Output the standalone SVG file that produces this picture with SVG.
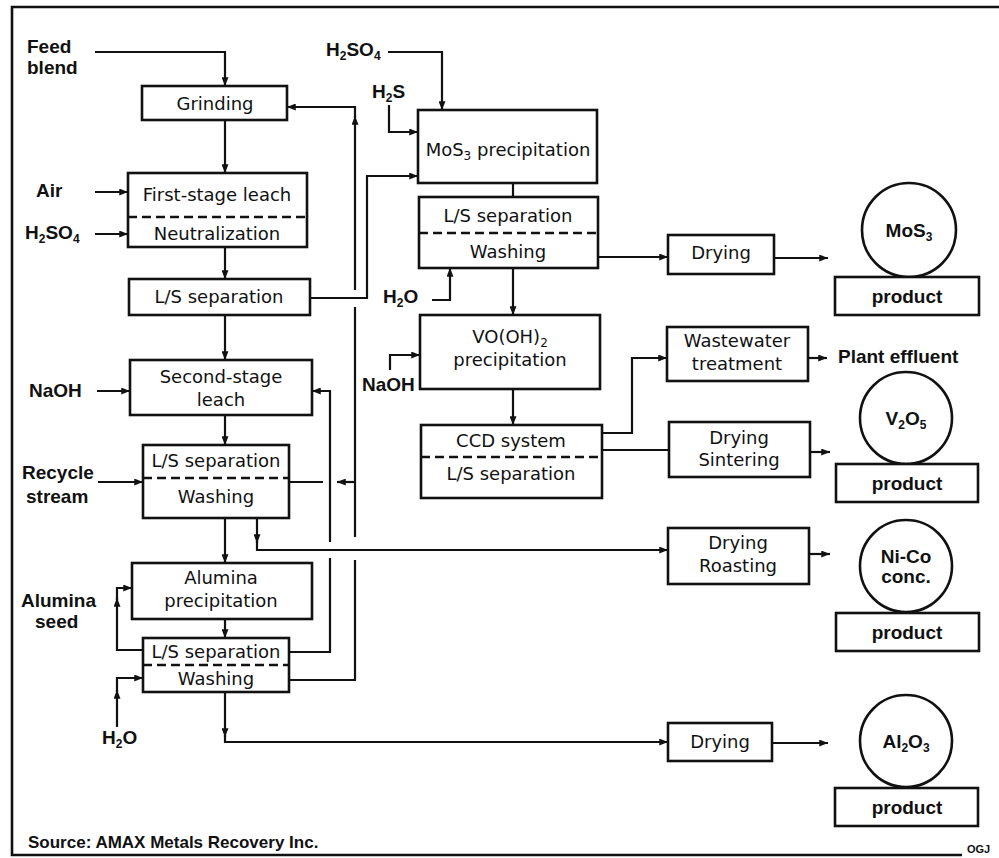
<svg xmlns="http://www.w3.org/2000/svg" width="999" height="858" viewBox="0 0 999 858">
<style>
.bx{fill:#fff;stroke:#111;stroke-width:2.6}
.dash{stroke:#111;stroke-width:2.6;stroke-dasharray:9,5;fill:none}
.ln{fill:none;stroke:#111;stroke-width:2.2}
.t{font-family:"DejaVu Sans",sans-serif;font-size:18px;fill:#111;text-anchor:middle}
.lb{font-family:"Liberation Sans",Arial,sans-serif;font-weight:bold;font-size:19px;fill:#111}
.lc{font-family:"Liberation Sans",Arial,sans-serif;font-weight:bold;font-size:19px;fill:#111;text-anchor:middle}
.sb{font-size:12px}
</style>
<defs>
<marker id="a" viewBox="0 0 10 8" refX="10" refY="4" markerWidth="9" markerHeight="7" markerUnits="userSpaceOnUse" orient="auto">
<path d="M0,0 L10,4 L0,8 z" fill="#111"/>
</marker>
</defs>
<rect width="999" height="858" fill="#fff"/>
<path d="M999,7 H12 V855 H962" fill="none" stroke="#111" stroke-width="2.6"/>

<g id="connectors">
<path class="ln" d="M95,52 H225 V86" marker-end="url(#a)"/>
<path class="ln" d="M225,120 V173" marker-end="url(#a)"/>
<path class="ln" d="M95,192 H128" marker-end="url(#a)"/>
<path class="ln" d="M95,234 H128" marker-end="url(#a)"/>
<path class="ln" d="M225,247 V279" marker-end="url(#a)"/>
<path class="ln" d="M310,298 H367 V176 H418" marker-end="url(#a)"/>
<path class="ln" d="M225,315 V360" marker-end="url(#a)"/>
<path class="ln" d="M97,391 H130" marker-end="url(#a)"/>
<path class="ln" d="M225,415 V445" marker-end="url(#a)"/>
<path class="ln" d="M98,482 H143" marker-end="url(#a)"/>
<path class="ln" d="M355,482 H337" marker-end="url(#a)"/>
<path class="ln" d="M323,482 H289"/>
<path class="ln" d="M225,518 V563" marker-end="url(#a)"/>
<path class="ln" d="M257,518 V543" marker-end="url(#a)"/>
<path class="ln" d="M257,540 V550 H668" marker-end="url(#a)"/>
<path class="ln" d="M225,619 V638" marker-end="url(#a)"/>
<path class="ln" d="M143,650 H117 V598" marker-end="url(#a)"/>
<path class="ln" d="M117,600 V588 H132" marker-end="url(#a)"/>
<path class="ln" d="M117,727 V690" marker-end="url(#a)"/>
<path class="ln" d="M117,692 V678 H143" marker-end="url(#a)"/>
<path class="ln" d="M289,652 H330 V558"/>
<path class="ln" d="M330,542 V391 H312" marker-end="url(#a)"/>
<path class="ln" d="M289,680 H355 V560"/>
<path class="ln" d="M355,537 V307"/>
<path class="ln" d="M355,290 V116" marker-end="url(#a)"/>
<path class="ln" d="M355,118 V107 H287" marker-end="url(#a)"/>
<path class="ln" d="M225,692 V737" marker-end="url(#a)"/>
<path class="ln" d="M225,735 V742 H668" marker-end="url(#a)"/>
<path class="ln" d="M388,52 H442 V110" marker-end="url(#a)"/>
<path class="ln" d="M389,105 V132 H418" marker-end="url(#a)"/>
<path class="ln" d="M513,183 V197"/>
<path class="ln" d="M432,300 H450 V268" marker-end="url(#a)"/>
<path class="ln" d="M513,268 V315" marker-end="url(#a)"/>
<path class="ln" d="M598,257 H668" marker-end="url(#a)"/>
<path class="ln" d="M774,258 H828" marker-end="url(#a)"/>
<path class="ln" d="M390,370 V355 H420" marker-end="url(#a)"/>
<path class="ln" d="M513,389 V425" marker-end="url(#a)"/>
<path class="ln" d="M602,433 H632 V358 H667" marker-end="url(#a)"/>
<path class="ln" d="M602,450 H669"/>
<path class="ln" d="M808,358 H827" marker-end="url(#a)"/>
<path class="ln" d="M810,452 H830" marker-end="url(#a)"/>
<path class="ln" d="M809,554 H830" marker-end="url(#a)"/>
<path class="ln" d="M772,743 H828" marker-end="url(#a)"/>
</g>

<g id="labels">
<text class="lb" x="27" y="53">Feed</text>
<text class="lb" x="27" y="74">blend</text>
<text class="lb" x="36" y="197">Air</text>
<text class="lb" x="25" y="239">H<tspan class="sb" dy="4">2</tspan><tspan dy="-4">SO</tspan><tspan class="sb" dy="4">4</tspan></text>
<text class="lb" x="29" y="397">NaOH</text>
<text class="lb" x="22" y="479">Recycle</text>
<text class="lb" x="26" y="503">stream</text>
<text class="lb" x="21" y="607">Alumina</text>
<text class="lb" x="35" y="628">seed</text>
<text class="lb" x="102" y="744">H<tspan class="sb" dy="4">2</tspan><tspan dy="-4">O</tspan></text>
<text class="lb" x="326" y="56">H<tspan class="sb" dy="4">2</tspan><tspan dy="-4">SO</tspan><tspan class="sb" dy="4">4</tspan></text>
<text class="lb" x="372" y="98">H<tspan class="sb" dy="4">2</tspan><tspan dy="-4">S</tspan></text>
<text class="lb" x="383" y="303">H<tspan class="sb" dy="4">2</tspan><tspan dy="-4">O</tspan></text>
<text class="lb" x="362" y="391">NaOH</text>
<text class="lb" x="838" y="363">Plant effluent</text>
<text class="lb" x="28" y="848" style="font-size:17px">Source: AMAX Metals Recovery Inc.</text>
<text class="lb" x="967" y="853" style="font-size:11px">OGJ</text>
</g>

<g id="grinding"><rect class="bx" x="142" y="86" width="145" height="34"/><text class="t" x="215" y="110">Grinding</text></g>
<g id="first-stage"><rect class="bx" x="128" y="173" width="179" height="74"/><line class="dash" x1="128" y1="217" x2="307" y2="217"/><text class="t" x="217" y="201">First-stage leach</text><text class="t" x="217" y="240">Neutralization</text></g>
<g id="ls1"><rect class="bx" x="129" y="279" width="181" height="36"/><text class="t" x="219" y="303">L/S separation</text></g>
<g id="second-stage"><rect class="bx" x="130" y="360" width="182" height="55"/><text class="t" x="221" y="383">Second-stage</text><text class="t" x="221" y="406">leach</text></g>
<g id="ls2"><rect class="bx" x="143" y="445" width="146" height="73"/><line class="dash" x1="143" y1="478" x2="289" y2="478"/><text class="t" x="216" y="467">L/S separation</text><text class="t" x="216" y="503">Washing</text></g>
<g id="alumina"><rect class="bx" x="132" y="563" width="180" height="56"/><text class="t" x="221" y="584">Alumina</text><text class="t" x="221" y="607">precipitation</text></g>
<g id="ls3"><rect class="bx" x="143" y="638" width="146" height="54"/><line class="dash" x1="143" y1="665" x2="289" y2="665"/><text class="t" x="216" y="658">L/S separation</text><text class="t" x="216" y="685">Washing</text></g>

<g id="mos3-prec"><rect class="bx" x="418" y="110" width="179" height="73"/><text class="t" x="508" y="156">MoS<tspan class="sb" dy="4">3</tspan><tspan dy="-4"> precipitation</tspan></text></g>
<g id="ls-mo"><rect class="bx" x="419" y="197" width="179" height="71"/><line class="dash" x1="419" y1="233" x2="598" y2="233"/><text class="t" x="508" y="222">L/S separation</text><text class="t" x="508" y="258">Washing</text></g>
<g id="vooh"><rect class="bx" x="420" y="315" width="180" height="74"/><text class="t" x="510" y="343">VO(OH)<tspan class="sb" dy="4">2</tspan></text><text class="t" x="510" y="366">precipitation</text></g>
<g id="ccd"><rect class="bx" x="421" y="425" width="181" height="73"/><line class="dash" x1="421" y1="457" x2="602" y2="457"/><text class="t" x="511" y="447">CCD system</text><text class="t" x="511" y="480">L/S separation</text></g>

<g id="drying-mo"><rect class="bx" x="668" y="235" width="106" height="39"/><text class="t" x="721" y="259">Drying</text></g>
<g id="wastewater"><rect class="bx" x="667" y="327" width="141" height="54"/><text class="t" x="737" y="347">Wastewater</text><text class="t" x="737" y="370">treatment</text></g>
<g id="drying-sint"><rect class="bx" x="669" y="422" width="141" height="55"/><text class="t" x="739" y="444">Drying</text><text class="t" x="739" y="466">Sintering</text></g>
<g id="drying-roast"><rect class="bx" x="668" y="528" width="141" height="56"/><text class="t" x="738" y="549">Drying</text><text class="t" x="738" y="572">Roasting</text></g>
<g id="drying-al"><rect class="bx" x="668" y="723" width="104" height="38"/><text class="t" x="720" y="748">Drying</text></g>

<g id="prod-mos3"><circle class="bx" cx="909" cy="230" r="47"/><rect class="bx" x="835" y="277" width="144" height="38"/><text class="lc" x="909" y="237">MoS<tspan class="sb" dy="4">3</tspan></text><text class="lc" x="907" y="303">product</text></g>
<g id="prod-v2o5"><circle class="bx" cx="906" cy="418" r="46"/><rect class="bx" x="836" y="464" width="142" height="38"/><text class="lc" x="906" y="425">V<tspan class="sb" dy="4">2</tspan><tspan dy="-4">O</tspan><tspan class="sb" dy="4">5</tspan></text><text class="lc" x="907" y="490">product</text></g>
<g id="prod-nico"><circle class="bx" cx="906" cy="566" r="46"/><rect class="bx" x="836" y="613" width="143" height="38"/><text class="lc" x="906" y="563">Ni-Co</text><text class="lc" x="906" y="583">conc.</text><text class="lc" x="907" y="639">product</text></g>
<g id="prod-al2o3"><circle class="bx" cx="906" cy="741" r="46"/><rect class="bx" x="835" y="788" width="143" height="38"/><text class="lc" x="906" y="748">Al<tspan class="sb" dy="4">2</tspan><tspan dy="-4">O</tspan><tspan class="sb" dy="4">3</tspan></text><text class="lc" x="907" y="814">product</text></g>
</svg>
